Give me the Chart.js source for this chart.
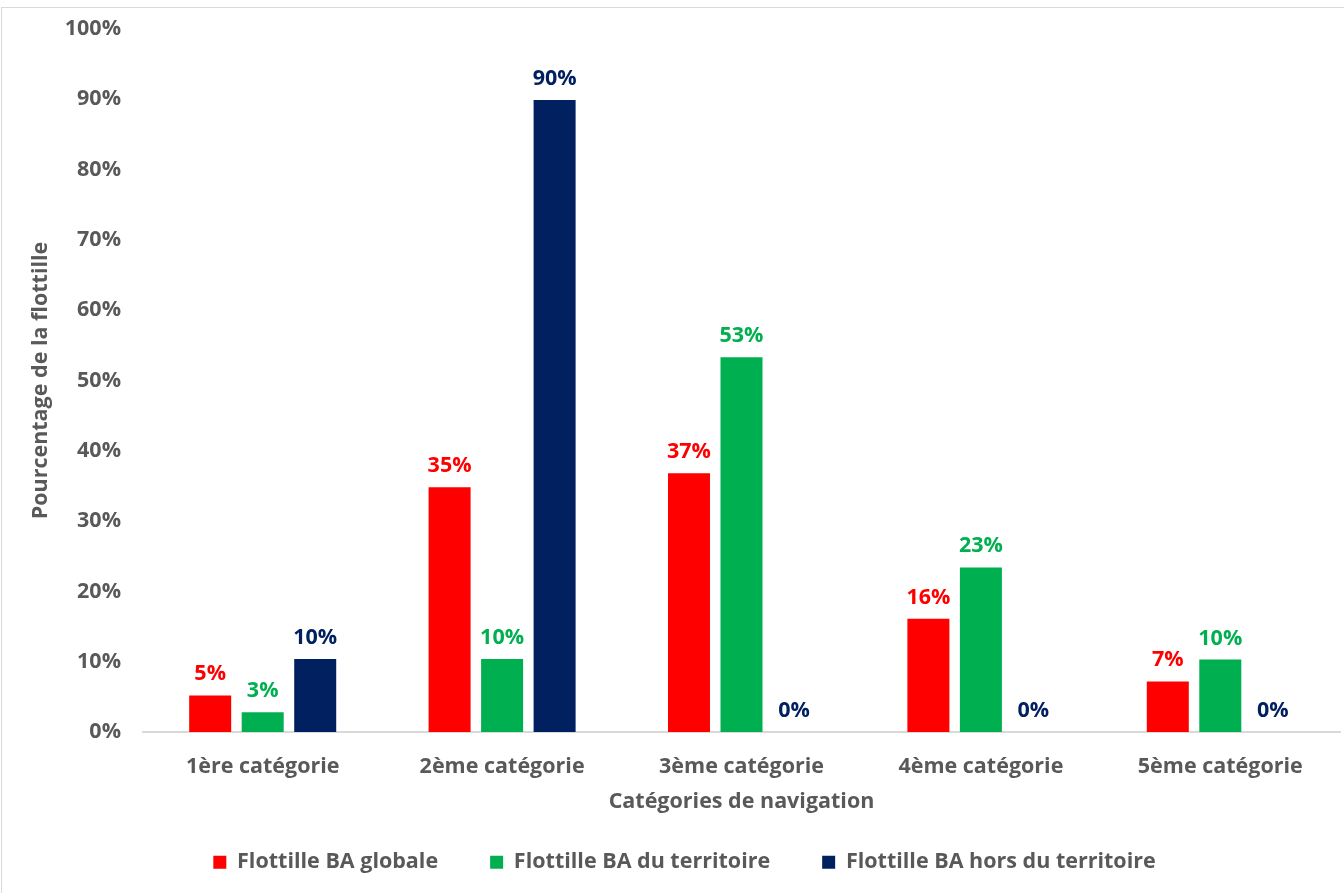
<!DOCTYPE html>
<html>
<head>
<meta charset="utf-8">
<script src="https://cdn.jsdelivr.net/npm/chart.js@4.4.1/dist/chart.umd.min.js"></script>
<style>
  html, body { margin: 0; padding: 0; background: #ffffff; overflow: hidden; }
  #frame { position: absolute; left: 1px; top: 7px; width: 1360px; height: 900px; border: 1px solid #D9D9D9; box-sizing: border-box; }
  #wrap { position: absolute; left: 0; top: 0; width: 1344px; height: 893px; }
</style>
</head>
<body>
<div id="frame"></div>
<div id="wrap"><canvas id="c" width="1344" height="893"></canvas></div>
<script>
const categories = ["1ère catégorie", "2ème catégorie", "3ème catégorie", "4ème catégorie", "5ème catégorie"];
const seriesNames = ["Flottille BA globale", "Flottille BA du territoire", "Flottille BA hors du territoire"];
const globale = [5.2, 34.8, 36.8, 16.1, 7.2];
const territoire = [2.8, 10.4, 53.3, 23.4, 10.3];
const horsTerritoire = [10.4, 89.9, 0, 0, 0];
const yTicks = [0, 10, 20, 30, 40, 50, 60, 70, 80, 90, 100];
const colors = ["#FF0000", "#00B050", "#002060"];

const FONT = "'Open Sans', sans-serif";
const FS = 21.5;
const GRAY = "#595959";

const valueLabels = {
  id: 'valueLabels',
  afterDatasetsDraw(chart) {
    const ctx = chart.ctx;
    ctx.save();
    ctx.font = "bold " + FS + "px " + FONT;
    ctx.textAlign = 'center';
    ctx.textBaseline = 'alphabetic';
    chart.data.datasets.forEach((ds, i) => {
      const meta = chart.getDatasetMeta(i);
      ctx.fillStyle = ds.backgroundColor;
      meta.data.forEach((el, j) => {
        const v = ds.data[j];
        ctx.fillText(Math.round(v) + '%', el.x, el.y - 15);
      });
    });
    ctx.restore();
  }
};

new Chart(document.getElementById('c'), {
  type: 'bar',
  data: {
    labels: categories,
    datasets: [
      { label: seriesNames[0], data: globale, backgroundColor: colors[0] },
      { label: seriesNames[1], data: territoire, backgroundColor: colors[1] },
      { label: seriesNames[2], data: horsTerritoire, backgroundColor: colors[2] }
    ]
  },
  options: {
    responsive: false,
    animation: false,
    datasets: { bar: { categoryPercentage: 0.658, barPercentage: 0.8 } },
    layout: { padding: { left: 29, right: 4, top: 29, bottom: 10 } },
    plugins: {
      tooltip: { enabled: false },
      legend: {
        position: 'bottom',
        labels: {
          color: GRAY,
          font: { family: FONT, size: FS, weight: 'bold' },
          boxWidth: 13,
          boxHeight: 13,
          padding: 52
        }
      }
    },
    scales: {
      x: {
        grid: { display: false, drawTicks: false },
        border: { display: true, color: '#D9D9D9', width: 2 },
        ticks: { color: GRAY, font: { family: FONT, size: FS, weight: 'bold' }, padding: 22 },
        title: { display: true, text: 'Catégories de navigation', color: GRAY, font: { family: FONT, size: FS, weight: 'bold' }, padding: { top: 0, bottom: -15 } },
        afterFit(scale) { scale.height = 67.5; }
      },
      y: {
        min: 0, max: 100,
        afterBuildTicks(scale) { scale.ticks = yTicks.map(v => ({ value: v })); },
        grid: { display: false, drawTicks: false },
        border: { display: false },
        ticks: { color: GRAY, font: { family: FONT, size: FS, weight: 'bold' }, padding: 22, callback: v => v + '%' },
        title: { display: true, text: 'Pourcentage de la flottille', color: GRAY, font: { family: FONT, size: FS, weight: 'bold' }, padding: { top: -1, bottom: 0 } },
        afterFit(scale) { scale.width = 114; scale.paddingTop = 0; scale.paddingBottom = 0; }
      }
    }
  },
  plugins: [valueLabels]
});
</script>
</body>
</html>
